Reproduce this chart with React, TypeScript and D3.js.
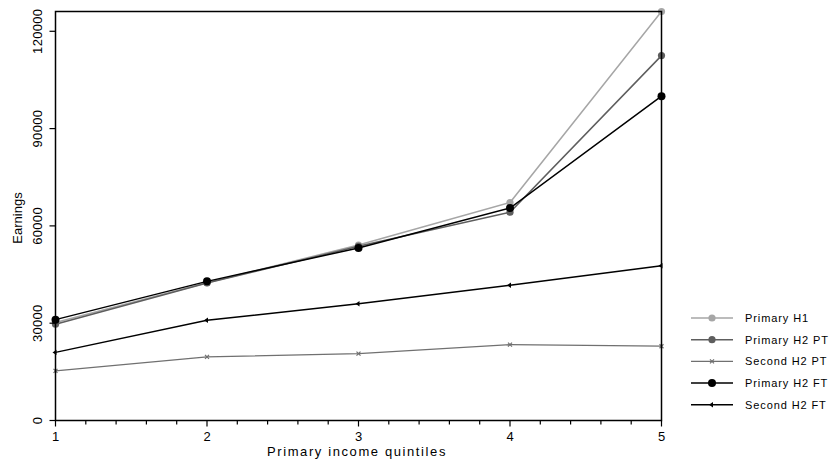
import * as d3 from "d3";

const quintiles = [1, 2, 3, 4, 5];
const primaryH1 = [30200, 42500, 54100, 67200, 126100];
const primaryH2PT = [29700, 42400, 53700, 64200, 112500];
const secondH2PT = [15300, 19600, 20600, 23400, 22900];
const primaryH2FT = [31100, 42900, 53200, 65500, 100000];
const secondH2FT = [21000, 30900, 36000, 41700, 47700];
const yTicks = [0, 30000, 60000, 90000, 120000];

const series = [
  { name: "Primary H1", values: primaryH1, color: "#a6a6a6", width: 1.5, marker: "dot", r: 3.6 },
  { name: "Primary H2 PT", values: primaryH2PT, color: "#5e5e5e", width: 1.5, marker: "dot", r: 3.6 },
  { name: "Second H2 PT", values: secondH2PT, color: "#707070", width: 1.3, marker: "cross", r: 2 },
  { name: "Primary H2 FT", values: primaryH2FT, color: "#000000", width: 1.5, marker: "dot", r: 4 },
  { name: "Second H2 FT", values: secondH2FT, color: "#000000", width: 1.5, marker: "arrow", r: 3 },
];

const font = "Arial, 'Liberation Sans', sans-serif";

function Marker({ kind, x, y, r, color }: { kind: string; x: number; y: number; r: number; color: string }) {
  if (kind === "dot") return <circle cx={x} cy={y} r={r} fill={color} />;
  if (kind === "cross")
    return (
      <path
        d={`M${x - r},${y - r}L${x + r},${y + r}M${x - r},${y + r}L${x + r},${y - r}`}
        stroke={color}
        strokeWidth={1.2}
      />
    );
  return <path d={`M${x - r},${y}L${x + 1},${y - r * 0.9}L${x + 1},${y + r * 0.9}Z`} fill={color} />;
}

export default function App() {
  const width = 835;
  const height = 464;
  const x = d3.scaleLinear().domain([1, 5]).range([55.5, 661.5]);
  const y = d3.scaleLinear().domain([0, 126100]).range([420.5, 11.5]);
  const minor = d3.range(1, 5.001, 0.2);
  const line = d3
    .line<number>()
    .x((_, i) => x(quintiles[i]))
    .y((d) => y(d));

  return (
    <svg width={width} height={height} style={{ position: "absolute", left: 0, top: 0, background: "#fff" }} fontFamily={font}>
      {/* series */}
      {series.map((s) => (
        <g key={s.name}>
          <path d={line(s.values) || ""} fill="none" stroke={s.color} strokeWidth={s.width} />
          {s.values.map((v, i) => (
            <Marker key={i} kind={s.marker} x={x(quintiles[i])} y={y(v)} r={s.r} color={s.color} />
          ))}
        </g>
      ))}

      {/* frame */}
      <rect x={x(1)} y={y.range()[1]} width={x(5) - x(1)} height={y(0) - y.range()[1]} fill="none" stroke="#000" strokeWidth={1.5} />

      {/* x axis ticks */}
      {minor.map((t, i) => (
        <line key={i} x1={x(t)} x2={x(t)} y1={y(0)} y2={y(0) + (i % 5 === 0 ? 6 : 4)} stroke="#000" strokeWidth={1.2} />
      ))}
      {quintiles.map((q) => (
        <text key={q} x={x(q)} y={y(0) + 20} textAnchor="middle" fontSize={13}>
          {q}
        </text>
      ))}
      <text x={357} y={456} textAnchor="middle" fontSize={13} letterSpacing={1.6}>
        Primary income quintiles
      </text>

      {/* y axis ticks */}
      {yTicks.map((t) => (
        <g key={t}>
          <line x1={x(1) - 6} x2={x(1)} y1={y(t)} y2={y(t)} stroke="#000" strokeWidth={1.2} />
          <text
            transform={`translate(42,${y(t)}) rotate(-90)`}
            textAnchor="middle"
            fontSize={13}
            letterSpacing={0.3}
          >
            {t}
          </text>
        </g>
      ))}
      <text transform={`translate(22,218) rotate(-90)`} textAnchor="middle" fontSize={13}>
        Earnings
      </text>

      {/* legend */}
      {series.map((s, i) => {
        const ly = 318 + i * 21.7;
        return (
          <g key={s.name}>
            <line x1={691} x2={733} y1={ly} y2={ly} stroke={s.color} strokeWidth={s.width} />
            <Marker kind={s.marker} x={712} y={ly} r={s.r} color={s.color} />
            <text x={745} y={ly + 4} fontSize={11} letterSpacing={0.9}>
              {s.name}
            </text>
          </g>
        );
      })}
    </svg>
  );
}
